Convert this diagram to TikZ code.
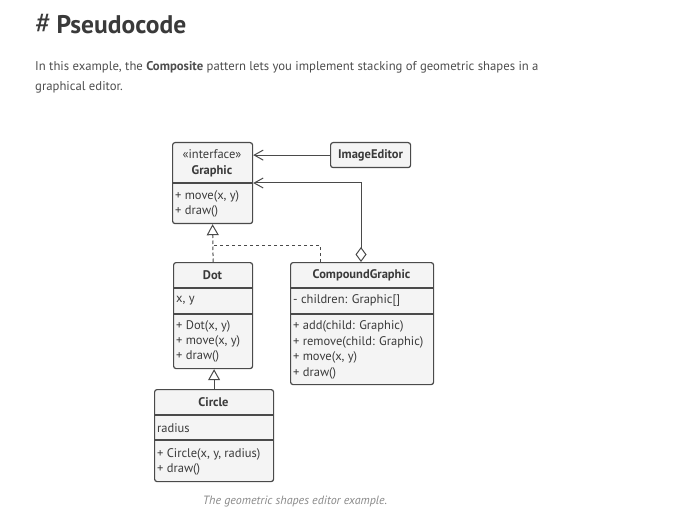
\documentclass[tikz,border=0pt]{standalone}
\usepackage{fontspec}
\setmainfont{PT Sans}
\usetikzlibrary{positioning, arrows.meta}

\definecolor{linegray}{HTML}{4A4A4A}
\definecolor{boxfill}{HTML}{F4F4F4}
\definecolor{textgray}{HTML}{3A3A3A}
\definecolor{introgray}{HTML}{4E4E4E}
\definecolor{captiongray}{HTML}{8A8A8A}

\tikzset{
  classbox/.style={draw=linegray, fill=boxfill, line width=1.2pt, rounded corners=2.5pt,
    anchor=north west, inner sep=0pt},
  divider/.style={draw=linegray, line width=1.2pt},
  member/.style={anchor=west, inner sep=0pt, font=\fontsize{12.5}{14}\selectfont, text=textgray},
  title/.style={inner sep=0pt, font=\bfseries\fontsize{12.5}{14}\selectfont, text=textgray},
  link/.style={draw=linegray, line width=1pt},
  realize/.style={link, dash pattern=on 3.5pt off 2.5pt},
  openbarb/.style={-{Straight Barb[length=9pt, width=10pt]}},
  opentri/.style={-{Triangle[open, fill=white, length=11pt, width=12pt]}},
  intro/.style={anchor=base west, inner sep=0pt, text=introgray, font=\fontsize{12.7}{15}\selectfont},
}

\begin{document}
\begin{tikzpicture}[x=1pt, y=-1pt]
\useasboundingbox[fill=white] (0,0) rectangle (686,524);

% heading and text
\node[anchor=base west, inner sep=0pt, text=textgray, font=\fontsize{25.5}{30}\selectfont] (heading) at (35,34)
  {{\fontsize{30}{30}\selectfont\#}\hspace{5pt}\textbf{Pseudocode}};
\node[intro] (intro1) at (35,71)
  {In this example, the \textbf{Composite} pattern lets you implement stacking of geometric shapes in a};
\node[intro] (intro2) at (35,91)
  {graphical editor.};

% Graphic
\node[classbox, minimum width=80pt, minimum height=81pt] (graphic) at (172,142) {};
\draw[divider] (172,183) -- (252,183);
\node[member, anchor=center] (gstereo) at (212,154) {«interface»};
\node[title] (gname) at (212,171) {Graphic};
\node[member] (gm1) at (175,196) {+ move(x, y)};
\node[member] (gm2) at (175,211) {+ draw()};

% ImageEditor
\node[classbox, minimum width=80pt, minimum height=25pt, title] (editor) at (330,142) {ImageEditor};

% Dot
\node[classbox, minimum width=79pt, minimum height=106pt] (dot) at (173,262) {};
\draw[divider] (173,288) -- (252,288);
\draw[divider] (173,314) -- (252,314);
\node[title] (dname) at (212.5,275) {Dot};
\node[member] (da1) at (176,301) {x, y};
\node[member] (dm1) at (176,326) {+ Dot(x, y)};
\node[member] (dm2) at (176,341) {+ move(x, y)};
\node[member] (dm3) at (176,356) {+ draw()};

% CompoundGraphic
\node[classbox, minimum width=143pt, minimum height=122pt] (compound) at (290,262) {};
\draw[divider] (290,288) -- (433,288);
\draw[divider] (290,314) -- (433,314);
\node[title] (cname) at (361.5,275) {CompoundGraphic};
\node[member] (ca1) at (293,300) {- children: Graphic[]};
\node[member] (cm1) at (293,326) {+ add(child: Graphic)};
\node[member] (cm2) at (293,342) {+ remove(child: Graphic)};
\node[member] (cm3) at (293,357) {+ move(x, y)};
\node[member] (cm4) at (293,373) {+ draw()};

% Circle
\node[classbox, minimum width=119pt, minimum height=92pt] (circle) at (154,389) {};
\draw[divider] (154,415) -- (273,415);
\draw[divider] (154,440) -- (273,440);
\node[title] (ciname) at (213.5,402) {Circle};
\node[member] (cia1) at (157,428) {radius};
\node[member] (cim1) at (157,454) {+ Circle(x, y, radius)};
\node[member] (cim2) at (157,469) {+ draw()};

% caption
\node[inner sep=0pt, text=captiongray, font=\itshape\fontsize{12}{14}\selectfont] (caption) at (295,502)
  {The geometric shapes editor example.};

% connectors
\coordinate (fork) at (212.5,245);
\coordinate (branch) at (320,262);
\coordinate (agg) at (361,262);
\coordinate (aggturn) at (361,183);

\draw[link, openbarb] (editor.west) -- (editor.west -| graphic.east);
\draw[link, {Diamond[open, fill=white, length=15pt, width=11pt]}-{Straight Barb[length=9pt, width=10pt]}]
  (agg) -- (aggturn) -- (aggturn -| graphic.east);
\draw[realize, opentri] (dot.north) -- (graphic.south);
\draw[realize] (branch) |- (fork);
\draw[link, opentri] (circle.north) -- (circle.north |- dot.south);
\end{tikzpicture}
\end{document}
